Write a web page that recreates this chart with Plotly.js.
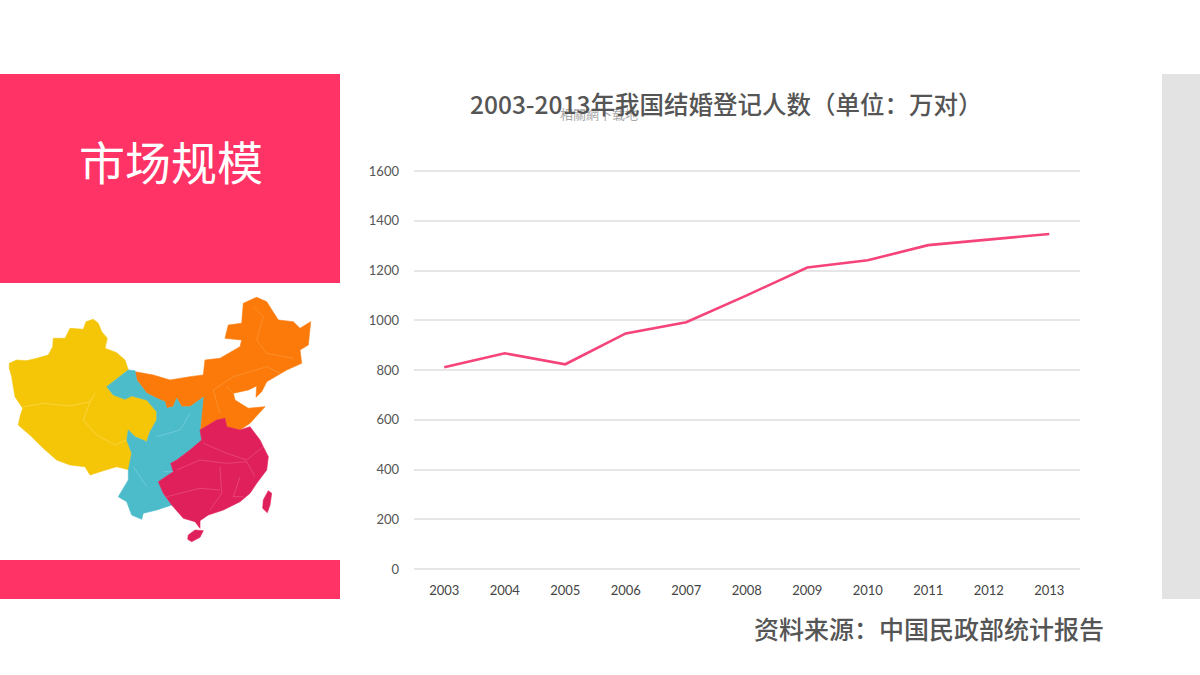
<!DOCTYPE html>
<html><head><meta charset="utf-8">
<script src="https://cdn.plot.ly/plotly-3.0.1.min.js"></script>
<style>html,body{margin:0;padding:0;background:#fff}#c{width:1200px;height:675px}</style></head>
<body><div id="c"></div>
<script>
const years=['2003','2004','2005','2006','2007','2008','2009','2010','2011','2012','2013'];
const registrations=[811,867,823,947,992,1100,1212,1241,1302,1324,1347];
const yTicks=[0,200,400,600,800,1000,1200,1400,1600];
const titleText='2003-2013年我国结婚登记人数（单位：万对）';
const sourceText='资料来源：中国民政部统计报告';
const headingText='市场规模';
const faintText='相關網下载地';

const mapYellow=[[28,250],[50,240],[80,242],[110,235],[145,225],[158,200],[160,175],[195,175],[210,145],[250,148],[258,125],[280,118],[295,130],[305,155],[322,175],[315,205],[350,218],[375,240],[385,270],[320,320],[340,345],[375,358],[395,348],[440,360],[470,395],[470,420],[450,455],[440,485],[405,470],[385,450],[380,480],[395,520],[390,570],[350,560],[310,572],[270,585],[255,560],[210,555],[170,540],[130,505],[95,470],[55,435],[60,410],[68,385],[45,350],[40,320],[35,290],[28,265]];
const mapTeal=[[385,270],[405,272],[410,300],[440,340],[470,355],[495,365],[500,385],[520,380],[530,355],[545,380],[570,380],[610,352],[600,450],[605,480],[570,510],[530,540],[512,550],[520,575],[475,605],[490,640],[515,675],[470,690],[430,700],[425,718],[395,705],[380,665],[355,650],[385,600],[385,570],[395,520],[380,480],[385,450],[405,470],[440,485],[450,455],[470,420],[470,395],[440,360],[395,348],[375,358],[340,345],[320,320]];
const mapOrange=[[405,275],[460,285],[510,300],[570,290],[610,285],[615,240],[660,235],[720,200],[725,180],[675,175],[685,135],[725,130],[730,70],[770,52],[800,65],[835,120],[880,125],[900,145],[932,125],[925,195],[900,210],[905,250],[860,270],[800,305],[785,335],[768,352],[770,318],[745,330],[700,340],[705,360],[745,385],[795,380],[750,430],[720,450],[680,440],[675,415],[650,420],[600,450],[610,352],[570,380],[545,380],[530,355],[520,380],[500,385],[495,365],[470,355],[440,340],[410,300]];
const mapRed=[[600,450],[650,420],[675,415],[680,440],[720,450],[750,440],[780,480],[790,500],[805,530],[800,570],[770,610],[750,640],[720,665],[670,690],[625,705],[600,722],[600,745],[585,725],[550,715],[515,675],[490,640],[475,605],[520,575],[512,550],[530,540],[570,510],[605,480]];
const mapTaiwan=[[805,632],[815,640],[810,675],[802,698],[788,685],[790,660]];
const mapHainan=[[565,765],[585,750],[610,752],[600,772],[575,785],[563,778]];
const mapLinesY=[[[70,380],[130,370],[210,378],[270,365],[285,340]],[[270,365],[250,420],[290,465],[345,495],[380,480]]];
const mapLinesO=[[[760,80],[790,110],[770,180],[800,220],[880,235]],[[640,330],[700,290],[800,260],[840,280]],[[640,330],[660,400]],[[680,320],[700,340]]];
const mapLinesT=[[[400,560],[440,620]],[[470,470],[540,450],[570,400]],[[490,575],[520,575]]];
const mapLinesR=[[[610,490],[680,520],[740,540],[790,500]],[[530,570],[600,540],[680,550],[740,545]],[[660,560],[665,640],[630,690]],[[500,650],[600,625],[660,630]],[[740,545],[765,590]],[[720,590],[700,650],[730,650]]];

const px=v=>v/1200, py=v=>1-v/675;
const mapX=v=>(v/3).toFixed(1), mapY=v=>(280+v/3).toFixed(1);
const toPath=(p,close)=>p.map((q,i)=>(i?'L':'M')+mapX(q[0])+','+mapY(q[1])).join(' ')+(close?' Z':'');
const rect=(x0,y0,x1,y1,c)=>({type:'rect',xref:'paper',yref:'paper',x0:px(x0),x1:px(x1),y0:py(y0),y1:py(y1),fillcolor:c,line:{width:0},layer:'below'});
const mapShape=(p,c)=>({type:'path',xref:'x2',yref:'y2',path:toPath(p,true),fillcolor:c,line:{color:c,width:0.6},layer:'above'});
const mapLine=(p,c)=>({type:'path',xref:'x2',yref:'y2',path:toPath(p,false),line:{color:c,width:0.6},layer:'above'});

const shapes=[
 rect(0,74,340,283,'#ff3366'),
 rect(0,560,340,599,'#ff3366'),
 rect(1162,74,1200,599,'#e3e3e3'),
 mapShape(mapOrange,'#fb7a0a'),
 mapShape(mapYellow,'#f5c508'),
 mapShape(mapTeal,'#4cbccb'),
 mapShape(mapRed,'#e0205a'),
 mapShape(mapTaiwan,'#e0205a'),
 mapShape(mapHainan,'#e0205a'),
 ...mapLinesY.map(p=>mapLine(p,'rgba(255,235,150,0.6)')),
 ...mapLinesO.map(p=>mapLine(p,'rgba(255,190,120,0.5)')),
 ...mapLinesT.map(p=>mapLine(p,'rgba(170,225,232,0.6)')),
 ...mapLinesR.map(p=>mapLine(p,'rgba(245,130,165,0.6)'))
];
const cjk='"Noto Sans CJK SC","Noto Sans",sans-serif';
const note=(t,x,y,size,color,weight)=>({text:t,xref:'paper',yref:'paper',x:px(x),y:py(y),xanchor:'center',yanchor:'middle',showarrow:false,font:{family:cjk,size:size,color:color,weight:weight||400}});

const trace={type:'scatter',mode:'lines',x:years,y:registrations,line:{color:'#f5447a',width:2.6,shape:'linear'},hoverinfo:'skip',showlegend:false};
const layout={
 width:1200,height:675,margin:{l:0,r:0,t:0,b:0},paper_bgcolor:'#fff',plot_bgcolor:'rgba(0,0,0,0)',showlegend:false,
 xaxis:{type:'category',domain:[px(414),px(1079.5)],range:[-0.5,10.5],showgrid:false,zeroline:false,showline:false,ticks:'',tickfont:{family:'Lato,sans-serif',size:13,color:'#444'},ticklabelstandoff:10,anchor:'y'},
 yaxis:{domain:[py(571),py(169)],range:[-8,1608],tickvals:yTicks,ticktext:yTicks.map(String),showgrid:true,gridcolor:'#e6e6e6',gridwidth:2,zeroline:true,zerolinecolor:'#e6e6e6',zerolinewidth:2,showline:false,ticks:'',tickfont:{family:'Lato,sans-serif',size:13,color:'#555'},ticklabelstandoff:14,anchor:'x'},
 xaxis2:{domain:[0,1],range:[0,1200],visible:false,anchor:'y2',fixedrange:true},
 yaxis2:{domain:[0,1],range:[675,0],visible:false,anchor:'x2',fixedrange:true},
 shapes:shapes,
 annotations:[
  note(headingText,171,160,46,'#fff'),
  note(faintText,599,114,13,'#a9a9a9'),
  note(titleText,726,103,24.5,'#555',500),
  note(sourceText,929,628,25,'#555',500)
 ]
};
Plotly.newPlot('c',[trace],layout,{staticPlot:true,displayModeBar:false});
</script></body></html>
